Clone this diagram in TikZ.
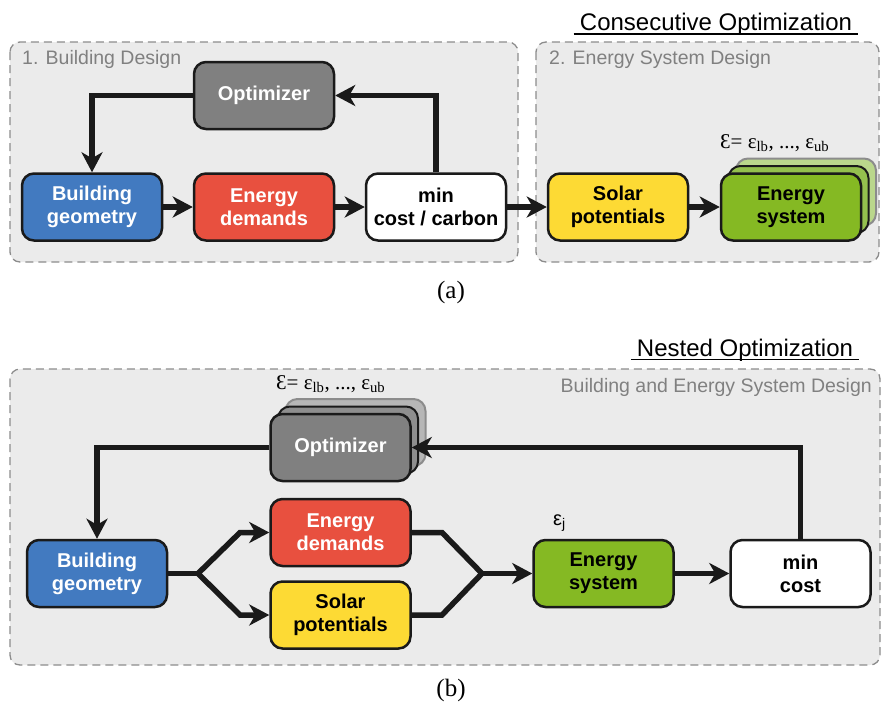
\documentclass[tikz,border=0pt]{standalone}
\usepackage{fontspec}
\setmainfont{Liberation Sans}
\newfontfamily\serifface{Liberation Serif}
\usetikzlibrary{arrows.meta}

\definecolor{boxline}{RGB}{26,26,26}
\definecolor{groupfill}{RGB}{235,235,235}
\definecolor{groupline}{RGB}{140,140,140}
\definecolor{grouptext}{RGB}{128,128,128}
\definecolor{cblue}{RGB}{66,122,192}
\definecolor{cred}{RGB}{232,80,63}
\definecolor{cgray}{RGB}{128,128,128}
\definecolor{cgraymid}{RGB}{142,142,142}
\definecolor{cgrayback}{RGB}{182,182,182}
\definecolor{cyellow}{RGB}{253,218,52}
\definecolor{cgreen}{RGB}{133,185,35}
\definecolor{cgreenmid}{RGB}{148,192,78}
\definecolor{cgreenback}{RGB}{186,215,140}

\begin{document}
\begin{tikzpicture}[x=1pt,y=-1pt,
  block/.style={draw=boxline, line width=2.5pt, rounded corners=12pt,
    minimum width=140pt, minimum height=67pt, inner sep=0pt, align=center,
    font=\bfseries\fontsize{20}{23}\selectfont},
  lighttext/.style={text=white},
  darktext/.style={text=black},
  backlayer/.style={draw=boxline, line width=2pt, rounded corners=12pt,
    minimum width=140pt, minimum height=67pt, inner sep=0pt},
  farlayer/.style={draw=groupline, line width=2pt, rounded corners=12pt,
    minimum width=140pt, minimum height=67pt, inner sep=0pt},
  groupbox/.style={draw=groupline, fill=groupfill, line width=1.3pt,
    dash pattern=on 8pt off 5pt, rounded corners=10pt},
  grouplabel/.style={text=grouptext, font=\fontsize{19.5}{23}\selectfont, inner sep=0pt},
  headline/.style={font=\fontsize{24}{28}\selectfont, inner xsep=6pt, inner ysep=0pt},
  caption/.style={font=\serifface\fontsize{25}{28}\selectfont, inner sep=0pt},
  epslabel/.style={font=\serifface\fontsize{21}{24}\selectfont, inner sep=0pt},
  arr/.style={line width=5.5pt, draw=boxline,
    -{Stealth[length=20pt, width=21pt, inset=6pt]}},
  link/.style={line width=5.5pt, draw=boxline},
]
\useasboundingbox (0,0) rectangle (881,705);

% ---------------- (a) consecutive optimization ----------------
\node[headline, anchor=base] (titleA) at (716,30.5) {Consecutive Optimization};
\draw[line width=1.2pt] ([yshift=-3.5pt]titleA.base west) -- ([yshift=-3.5pt]titleA.base east);

\draw[groupbox] (10,42) rectangle (518,262);
\draw[groupbox] (536,42) rectangle (879,262);
\node[grouplabel, anchor=base west] (labBuild) at (22,64.5) {1. Building Design};
\node[grouplabel, anchor=base west] (labEnergy) at (549,64.5) {2. Energy System Design};

\node[block, fill=cgray, lighttext] (optA) at (264,95.5) {Optimizer};
\node[block, fill=cblue, lighttext] (bgA) at (92,207) {Building\\geometry};
\node[block, fill=cred, lighttext] (edA) at (264,207) {Energy\\demands};
\node[block, fill=white, darktext] (minA) at (436,207) {min\\cost / carbon};
\node[block, fill=cyellow, darktext] (spA) at (618,207) {Solar\\potentials};
\node[farlayer, fill=cgreenback] (esA3) at (806,192) {};
\node[backlayer, fill=cgreenmid] (esA2) at (798.5,199.5) {};
\node[block, fill=cgreen, darktext] (esA) at (791,207) {Energy\\system};
\node[epslabel, anchor=base west] (epsA) at (720,148)
  {Ɛ= ε\textsubscript{lb}, ..., ε\textsubscript{ub}};

\draw[arr] (optA.west) -| (bgA.north);
\draw[arr] (minA.north) |- (optA.east);
\draw[arr] (bgA) -- (edA);
\draw[arr] (edA) -- (minA);
\draw[arr] (minA) -- (spA);
\draw[arr] (spA) -- (esA);

\node[caption] (capA) at (451,292) {(a)};

% ---------------- (b) nested optimization ----------------
\node[headline, anchor=base] (titleB) at (745,356) {Nested Optimization};
\draw[line width=1.2pt] ([yshift=-3.5pt]titleB.base west) -- ([yshift=-3.5pt]titleB.base east);

\draw[groupbox] (10,369) rectangle (880,665);
\node[grouplabel, anchor=base east] (labNested) at (872,392.5) {Building and Energy System Design};

\node[farlayer, fill=cgrayback] (optB3) at (355.5,432.5) {};
\node[backlayer, fill=cgraymid] (optB2) at (348,440) {};
\node[block, fill=cgray, lighttext] (optB) at (340.5,447.5) {Optimizer};
\node[epslabel, anchor=base west] (epsB) at (276,389)
  {Ɛ= ε\textsubscript{lb}, ..., ε\textsubscript{ub}};

\node[block, fill=cblue, lighttext] (bgB) at (97,573.5) {Building\\geometry};
\node[block, fill=cred, lighttext] (edB) at (340.5,532.5) {Energy\\demands};
\node[block, fill=cyellow, darktext] (spB) at (340.5,615) {Solar\\potentials};
\node[block, fill=cgreen, darktext] (esB) at (603.5,573.5) {Energy\\system};
\node[block, fill=white, darktext] (minB) at (800.5,573.5) {min\\cost};
\node[font=\fontsize{20}{24}\selectfont, inner sep=0pt, anchor=base west] (epsJ) at (553,525)
  {ε\textsubscript{j}};

\coordinate (split) at (198,573.5);
\coordinate (edIn) at (240,532.5);
\coordinate (spIn) at (240,615);
\coordinate (edOut) at (442,532.5);
\coordinate (spOut) at (442,615);
\coordinate (merge) at (482,573.5);

\draw[arr] (optB.west) -| (bgB.north);
\draw[arr] (minB.north) |- (optB.east);
\draw[link] (bgB.east) -- (split);
\draw[arr] (split) -- (edIn) -- (edB.west);
\draw[arr] (split) -- (spIn) -- (spB.west);
\draw[link] (edB.east) -- (edOut) -- (merge);
\draw[link] (spB.east) -- (spOut) -- (merge);
\draw[arr] (merge) -- (esB.west);
\draw[arr] (esB) -- (minB);

\node[caption] (capB) at (451,690) {(b)};
\end{tikzpicture}
\end{document}
